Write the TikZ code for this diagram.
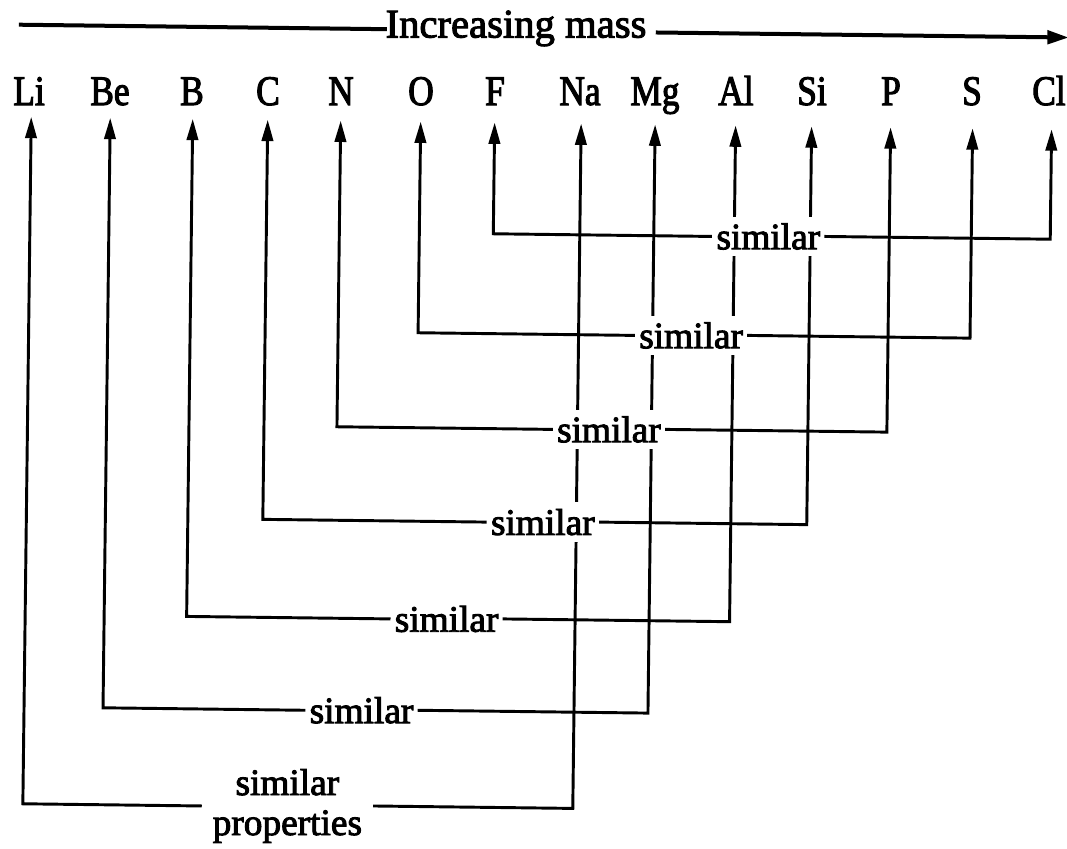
\documentclass[tikz,border=0pt]{standalone}
\usepackage{fontspec}
\setmainfont{Liberation Serif}
\newfontfamily\heavy{Liberation Serif}[FakeBold=2.5]
\newfontfamily\heavynarrow{Liberation Serif}[FakeBold=2.5,FakeStretch=0.84]
\usetikzlibrary{arrows.meta}
\pgfdeclarelayer{bg}
\pgfsetlayers{bg,main}
\begin{document}
\begin{tikzpicture}[x=0.75pt,y=-0.75pt,
  el/.style={inner sep=0pt, anchor=base, font=\heavynarrow\fontsize{31.5}{33}\selectfont},
  ttl/.style={inner sep=0pt, anchor=base, font=\heavy\fontsize{30.5}{32}\selectfont},
  sim/.style={fill=white, inner xsep=3pt, inner ysep=5pt, font=\heavy\fontsize{28}{30}\selectfont},
  link/.style={line width=2.2pt, -{Triangle[length=16pt,width=8.5pt]}},
  top/.style={line width=3pt},
  toparr/.style={line width=3pt, -{Triangle[length=16pt,width=10pt]}}
]
\useasboundingbox (0,0) rectangle (1067,849);
\begin{pgfonlayer}{bg}
  \fill[white] (0,0) rectangle (1067,849);
\end{pgfonlayer}
% level text: title and element symbols
\node[ttl] (title) at (516,37.5) {Increasing mass};
\foreach \n/\x in {Li/29, Be/110, B/192, C/268, N/341, O/421, F/495,
                   Na/580, Mg/655, Al/736, Si/812, P/891, S/972, Cl/1049}
  \node[el] (\n) at (\x,105) {\n};
% artwork (slightly skewed like the scan)
\begin{scope}[rotate around={-0.7:(533,425)}]
  \coordinate (tl) at (14,31);
  \coordinate (tlm) at (382,31);
  \coordinate (trm) at (651,31);
  \coordinate (tr) at (1064,31);
  \draw[top] (tl) -- (tlm);
  \draw[toparr] (trm) -- (tr);
  % arrow tips under the symbols
  \foreach \n/\x in {Li/27.5, Be/106.5, B/189, C/264, N/337, O/417, F/491,
                     Na/577.5, Mg/651.5, Al/732, Si/808, P/887, S/969, Cl/1048}
    \coordinate (t\n) at (\x,123);
  % similarity labels
  \node[sim] (s1) at (766,233.6) {similar};
  \node[sim] (s2) at (690,333.5) {similar};
  \node[sim] (s3) at (609,428.5) {similar};
  \node[sim] (s4) at (544,522) {similar};
  \node[sim] (s5) at (449,620) {similar};
  \node[sim] (s6) at (365,712.4) {similar};
  \node[sim, align=center, inner xsep=8pt, inner ysep=0pt] (s7) at (292,809) {similar\\properties};
  \begin{pgfonlayer}{bg}
    \draw[link] (s1.west) -| (tF);  \draw[link] (s1.east) -| (tCl);
    \draw[link] (s2.west) -| (tO);  \draw[link] (s2.east) -| (tS);
    \draw[link] (s3.west) -| (tN);  \draw[link] (s3.east) -| (tP);
    \draw[link] (s4.west) -| (tC);  \draw[link] (s4.east) -| (tSi);
    \draw[link] (s5.west) -| (tB);  \draw[link] (s5.east) -| (tAl);
    \draw[link] (s6.west) -| (tBe); \draw[link] (s6.east) -| (tMg);
    \draw[link] (s7.west) -| (tLi); \draw[link] (s7.east) -| (tNa);
  \end{pgfonlayer}
\end{scope}
\end{tikzpicture}
\end{document}
